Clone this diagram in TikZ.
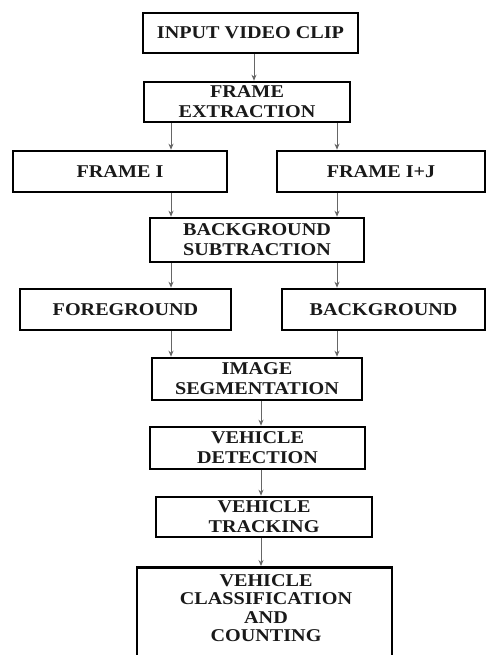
\documentclass[tikz,border=0pt]{standalone}
\usepackage{fontspec}
\setmainfont{Liberation Serif}[FakeStretch=1.12]
\usetikzlibrary{arrows.meta}
\begin{document}
\begin{tikzpicture}[x=1pt,y=-1pt,
  box/.style={draw=black,line width=2.6pt,rectangle,inner sep=0pt,align=center,
    font=\fontsize{18}{20}\selectfont\bfseries,text=black!90},
  arr/.style={draw=black!60,line width=0.9pt,-{Stealth[length=6pt,width=5pt]}}]
\clip (0,0) rectangle (487,655);
\fill[white] (0,0) rectangle (487,655);
\node[box,minimum width=215pt,minimum height=40pt] (in) at (250.5,33) {INPUT VIDEO CLIP};
\node[box,minimum width=206pt,minimum height=40pt] (fe) at (247,102) {FRAME\\EXTRACTION};
\node[box,minimum width=214pt,minimum height=41pt] (fi) at (120,171.5) {FRAME I};
\node[box,minimum width=208pt,minimum height=41pt] (fij) at (381,171.5) {FRAME I+J};
\node[box,minimum width=214pt,minimum height=44pt] (bs) at (257,240) {BACKGROUND\\SUBTRACTION};
\node[box,minimum width=211pt,minimum height=41pt] (fg) at (125.5,309.5) {FOREGROUND};
\node[box,minimum width=203pt,minimum height=41pt] (bg) at (383.5,309.5) {BACKGROUND};
\node[box,minimum width=210pt,minimum height=42pt] (is) at (257,379) {IMAGE\\SEGMENTATION};
\node[box,minimum width=215pt,minimum height=42pt] (vd) at (257.5,448) {VEHICLE\\DETECTION};
\node[box,minimum width=216pt,minimum height=40pt] (vt) at (264,517) {VEHICLE\\TRACKING};
\node[box,minimum width=255pt,minimum height=110pt,anchor=north] (vc) at (264.5,566) {};
\node[font=\fontsize{18}{18.5}\selectfont\bfseries,text=black!90,align=center,inner sep=0pt,anchor=north] (vct) at (266,574) {VEHICLE\\CLASSIFICATION\\AND\\COUNTING};
\coordinate (xa) at (254,0);
\coordinate (xl) at (171,0);
\coordinate (xr) at (337,0);
\coordinate (xc) at (261,0);
\draw[arr] (in.south -| xa) -- (fe.north -| xa);
\draw[arr] (fe.south -| xl) -- (fi.north -| xl);
\draw[arr] (fe.south -| xr) -- (fij.north -| xr);
\draw[arr] (fi.south -| xl) -- (bs.north -| xl);
\draw[arr] (fij.south -| xr) -- (bs.north -| xr);
\draw[arr] (bs.south -| xl) -- (fg.north -| xl);
\draw[arr] (bs.south -| xr) -- (bg.north -| xr);
\draw[arr] (fg.south -| xl) -- (is.north -| xl);
\draw[arr] (bg.south -| xr) -- (is.north -| xr);
\draw[arr] (is.south -| xc) -- (vd.north -| xc);
\draw[arr] (vd.south -| xc) -- (vt.north -| xc);
\draw[arr] (vt.south -| xc) -- (vc.north -| xc);
\end{tikzpicture}
\end{document}
